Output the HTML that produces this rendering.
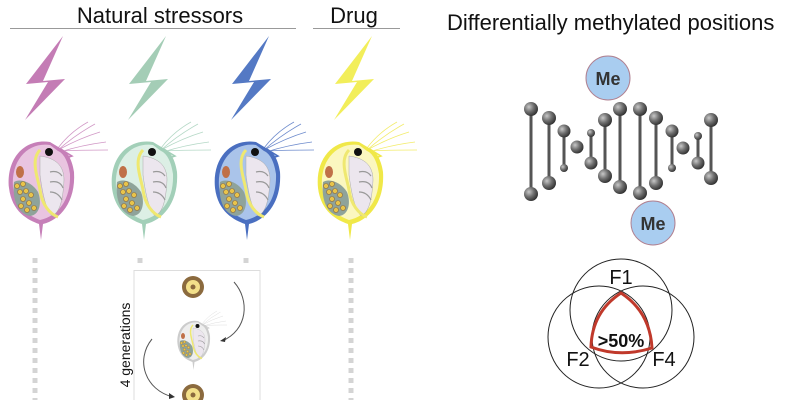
<!DOCTYPE html>
<html><head><style>
html,body{margin:0;padding:0;background:#fff;width:800px;height:400px;overflow:hidden}
svg{display:block}
text{font-family:"Liberation Sans",sans-serif}
</style></head><body>
<svg width="800" height="400" viewBox="0 0 800 400" xmlns="http://www.w3.org/2000/svg">
<defs>
<radialGradient id="ball" cx="0.35" cy="0.35" r="0.7">
<stop offset="0" stop-color="#c8c8c8"/><stop offset="0.5" stop-color="#707070"/><stop offset="1" stop-color="#2e2e2e"/>
</radialGradient>
<g id="daph">
<path d="M62 30 L72 36 L60 40" fill="var(--f)" stroke="var(--s)" stroke-width="1.5"/>
<g stroke="var(--s)" stroke-width="0.8" fill="none" opacity="0.8">
<path d="M58 30 Q75 15 95 4"/><path d="M58 30 Q80 18 100 12"/><path d="M60 32 Q82 25 106 22"/><path d="M60 31 Q80 30 108 30"/><path d="M58 28 Q70 12 88 2"/>
</g>
<path d="M50 22 C25 18 6 38 9 68 C12 92 28 100 39 104 L41 120 L43 104 C60 100 76 82 74 52 C72 38 66 30 60 28 Z" fill="var(--s)"/>
<path d="M50 25 C28 22 11 40 13 67 C16 89 30 96 40 100 C58 96 71 80 70 54 C68 40 63 33 58 31 Z" fill="var(--f)"/>
<path d="M40 36 C55 38 64 45 64 60 C63 80 60 92 52 96 C45 88 42 70 40 55 Z" fill="#ece6ee" stroke="#aaa" stroke-width="0.5"/>
<path d="M40 30 C30 40 38 58 40 70 C42 85 50 94 58 97" stroke="#efe870" stroke-width="3" fill="none"/>
<path d="M14 62 C20 58 32 62 38 72 C42 82 40 95 30 96 C18 94 12 80 14 62Z" fill="#8fa39a"/>
<g fill="#e8c44a" stroke="#8b6a3e" stroke-width="0.6">
<circle cx="17" cy="66" r="2.5"/><circle cx="23" cy="64" r="2.5"/><circle cx="20" cy="72" r="2.5"/><circle cx="26" cy="71" r="2.5"/><circle cx="31" cy="75" r="2.5"/><circle cx="23" cy="79" r="2.5"/><circle cx="29" cy="83" r="2.5"/><circle cx="34" cy="88" r="2.5"/><circle cx="27" cy="90" r="2.5"/><circle cx="21" cy="86" r="2.5"/>
</g>
<ellipse cx="20" cy="52" rx="4" ry="6" fill="#c07048"/>
<g fill="none" stroke="#999" stroke-width="1.2"><path d="M50 52 Q58 50 62 56"/><path d="M50 62 Q60 60 63 68"/><path d="M50 72 Q58 72 62 80"/></g>
<circle cx="49" cy="32" r="4" fill="#111"/>
</g>
<polygon id="bolt" points="63,36 26,84 48,82 25,120 65,79 43,81"/>
</defs>

<text x="160" y="23" font-size="22" text-anchor="middle" fill="#111">Natural stressors</text>
<line x1="10" y1="28.5" x2="296" y2="28.5" stroke="#999" stroke-width="1"/>
<text x="354" y="23" font-size="22" text-anchor="middle" fill="#111">Drug</text>
<line x1="313" y1="28.5" x2="400" y2="28.5" stroke="#999" stroke-width="1"/>

<use href="#bolt" fill="#c47cb5"/>
<use href="#bolt" x="103" fill="#a4cdb6"/>
<use href="#bolt" x="206" fill="#5479c4"/>
<use href="#bolt" x="309" fill="#f2ee5a"/>

<use href="#daph" x="0" y="120" style="--s:#c67fb8;--f:#e9c4e0"/>
<use href="#daph" x="103" y="120" style="--s:#a2cfb8;--f:#dcefe5"/>
<use href="#daph" x="206" y="120" style="--s:#4a6fc0;--f:#aac4ea"/>
<use href="#daph" x="309" y="120" style="--s:#f0e848;--f:#fbf7c0"/>

<g stroke="#d4d4d4" stroke-width="5" stroke-dasharray="5 5">
<line x1="35" y1="258" x2="35" y2="400"/>
<line x1="351" y1="258" x2="351" y2="400"/>
<line x1="140" y1="258" x2="140" y2="268"/>
<line x1="246" y1="258" x2="246" y2="268"/>
</g>
<rect x="134" y="270.5" width="126" height="140" fill="none" stroke="#ddd" stroke-width="1"/>
<text transform="translate(130,345) rotate(-90)" font-size="14" text-anchor="middle" fill="#111">4 generations</text>
<circle cx="193" cy="287" r="11" fill="#8b6a3e"/><circle cx="193" cy="287" r="7" fill="#f3e08a"/><circle cx="193" cy="287" r="2.5" fill="#8b6a3e"/>
<circle cx="193" cy="395" r="11" fill="#8b6a3e"/><circle cx="193" cy="395" r="7" fill="#f3e08a"/><circle cx="193" cy="395" r="2.5" fill="#8b6a3e"/>
<use href="#daph" transform="translate(173,310) scale(0.5)" style="--s:#ccc;--f:#eee"/>
<path d="M234 282 C250 300 248 330 222 341" fill="none" stroke="#555" stroke-width="1"/>
<path d="M220 341 l6 -4 l-1 5z" fill="#333"/>
<path d="M152 339 C135 360 145 390 173 397" fill="none" stroke="#555" stroke-width="1"/>
<path d="M175 397 l-6 -4 l0 6z" fill="#333"/>

<text x="447" y="30" font-size="22" fill="#111">Differentially methylated positions</text>

<g stroke="#555" stroke-width="3">
<line x1="531" y1="109" x2="531" y2="194"/><line x1="549" y1="118" x2="549" y2="183"/><line x1="564" y1="131" x2="564" y2="168"/>
<line x1="591" y1="133" x2="591" y2="163"/><line x1="605" y1="120" x2="605" y2="176"/><line x1="620" y1="109" x2="620" y2="187"/>
<line x1="640" y1="109" x2="640" y2="193"/><line x1="656" y1="118" x2="656" y2="183"/><line x1="672" y1="131" x2="672" y2="168"/>
<line x1="698" y1="136" x2="698" y2="163"/><line x1="711" y1="120" x2="711" y2="178"/>
</g>
<g fill="url(#ball)">
<circle cx="531" cy="109" r="7"/><circle cx="531" cy="194" r="7"/>
<circle cx="549" cy="118" r="7"/><circle cx="549" cy="183" r="7"/>
<circle cx="564" cy="131" r="6.5"/><circle cx="564" cy="168" r="4"/>
<circle cx="577" cy="147" r="6.5"/>
<circle cx="591" cy="133" r="4"/><circle cx="591" cy="163" r="6.5"/>
<circle cx="605" cy="120" r="7"/><circle cx="605" cy="176" r="7"/>
<circle cx="620" cy="109" r="7"/><circle cx="620" cy="187" r="7"/>
<circle cx="640" cy="109" r="7"/><circle cx="640" cy="193" r="7"/>
<circle cx="656" cy="118" r="7"/><circle cx="656" cy="183" r="7"/>
<circle cx="672" cy="131" r="6.5"/><circle cx="672" cy="168" r="4"/>
<circle cx="683" cy="148" r="6.5"/>
<circle cx="698" cy="136" r="4"/><circle cx="698" cy="163" r="6.5"/>
<circle cx="711" cy="120" r="7"/><circle cx="711" cy="178" r="7"/>
</g>
<circle cx="608" cy="78" r="22" fill="#a9cdf0" stroke="#b08090" stroke-width="1"/>
<text x="608" y="85" font-size="18" font-weight="bold" text-anchor="middle" fill="#333">Me</text>
<circle cx="653" cy="223" r="22" fill="#a9cdf0" stroke="#b08090" stroke-width="1"/>
<text x="653" y="230" font-size="18" font-weight="bold" text-anchor="middle" fill="#333">Me</text>

<g fill="none" stroke="#222" stroke-width="1">
<circle cx="621" cy="310" r="51"/>
<circle cx="599" cy="337" r="51"/>
<circle cx="643" cy="337" r="51"/>
</g>
<path d="M621 293 Q650 312 652 348 Q620 358 591 347 Q592 312 621 293Z" fill="none" stroke="#c0392b" stroke-width="3"/>
<text x="621" y="284" font-size="20" text-anchor="middle" fill="#111">F1</text>
<text x="578" y="366" font-size="20" text-anchor="middle" fill="#111">F2</text>
<text x="664" y="366" font-size="20" text-anchor="middle" fill="#111">F4</text>
<text x="621" y="347" font-size="18" font-weight="bold" text-anchor="middle" fill="#111">&gt;50%</text>
</svg>
</body></html>
